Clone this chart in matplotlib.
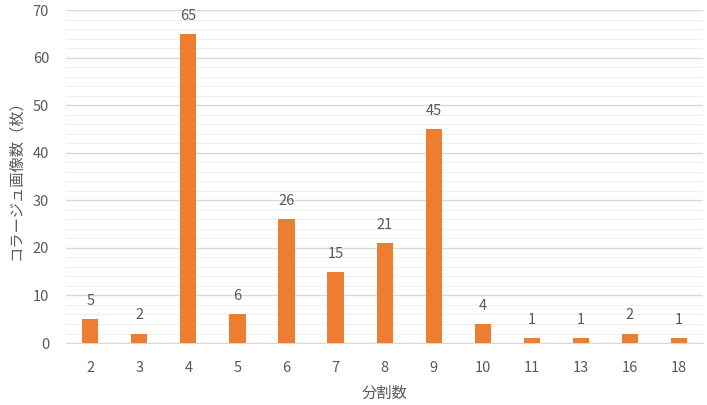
import matplotlib
matplotlib.use("Agg")
import matplotlib.pyplot as plt
from matplotlib.ticker import MultipleLocator

plt.rcParams['font.family'] = ['Noto Sans CJK JP', 'DejaVu Sans']

# data
divisions = ["2", "3", "4", "5", "6", "7", "8", "9", "10", "11", "13", "16", "18"]
counts = [5, 2, 65, 6, 26, 15, 21, 45, 4, 1, 1, 2, 1]

BAR = "#ED7D31"
TXT = "#595959"

fig = plt.figure(figsize=(7.07, 4.05), dpi=100)
ax = fig.add_axes([0.093, 0.153, 0.902, 0.822])

x = list(range(len(divisions)))
bars = ax.bar(x, counts, width=0.33, color=BAR, zorder=3)

for xi, v in zip(x, counts):
    ax.annotate(str(v), (xi, v), xytext=(0, 8), textcoords="offset points",
                ha="center", va="bottom", fontsize=10.5, color=TXT)

ax.set_xlim(-0.5, len(divisions) - 0.5)
ax.set_ylim(0, 70)
ax.yaxis.set_major_locator(MultipleLocator(10))
ax.yaxis.set_minor_locator(MultipleLocator(2))
ax.grid(axis="y", which="major", color="#D9D9D9", linewidth=1.0, zorder=0)
ax.grid(axis="y", which="minor", color="#EFEFEF", linewidth=0.8, zorder=0)
ax.set_axisbelow(True)

ax.set_xticks(x)
ax.set_xticklabels(divisions)
ax.tick_params(axis="both", which="both", length=0, colors=TXT, labelsize=10.5)
ax.tick_params(axis="x", pad=13)
ax.tick_params(axis="y", pad=12)

for side in ["top", "right", "left"]:
    ax.spines[side].set_visible(False)
ax.spines["bottom"].set_color("#D9D9D9")

ax.set_xlabel("分割数", fontsize=11, color=TXT, labelpad=7)
ax.set_ylabel("コラージュ画像数（枚）", fontsize=11, color=TXT, labelpad=6)

fig.savefig("out.png", dpi=100)
